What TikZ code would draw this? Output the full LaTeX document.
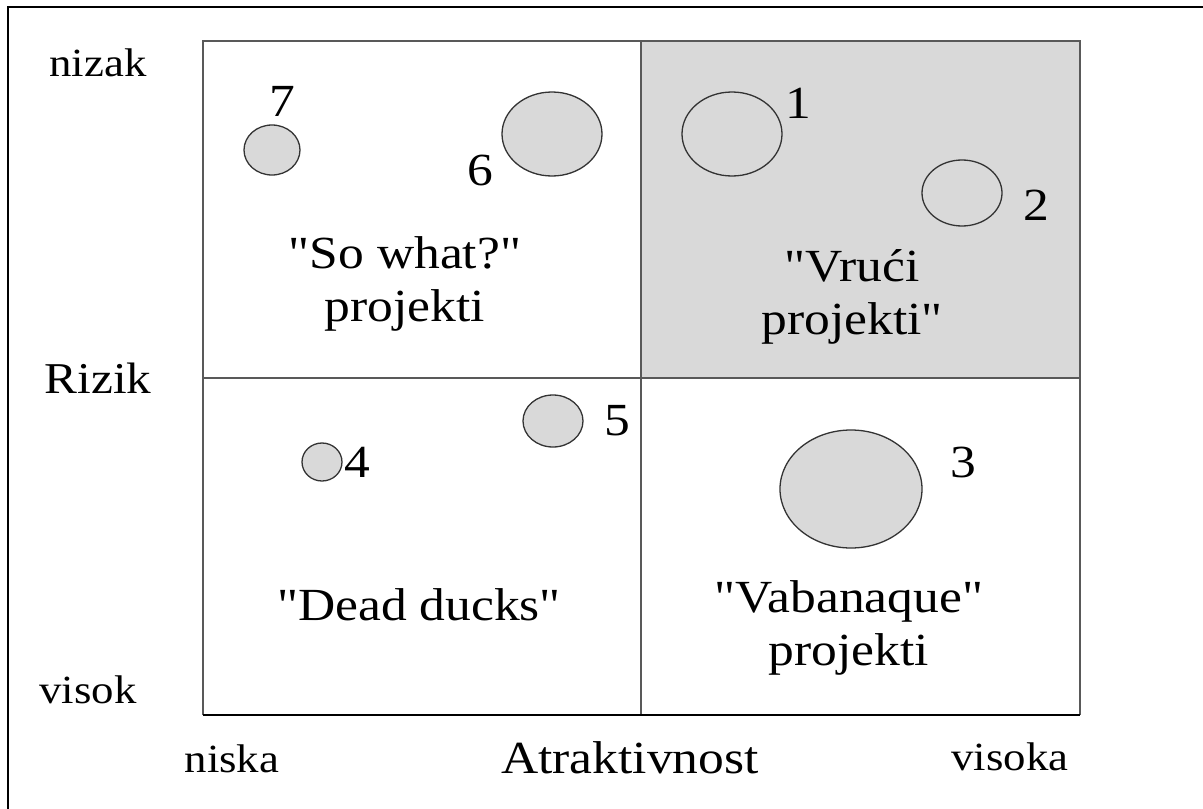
\documentclass[tikz,border=0pt]{standalone}
\usepackage{fontspec}
\setmainfont[FakeStretch=1.12, Ligatures=TeXOff]{Liberation Serif}
\usetikzlibrary{positioning,shapes.geometric}
\tikzset{
grid/.style={
    draw=gray!70!black,
    line width=2pt
},
blob/.style={
    ellipse,
    draw=black!80,
    line width=1.3pt,
    fill=gray!30,
    inner sep=0pt
},
num/.style={
    font=\fontsize{46}{50}\selectfont
},
quad/.style={
    align=center,
    font=\fontsize{46}{53}\selectfont
},
axis/.style={
    anchor=base,
    font=\fontsize{40}{44}\selectfont
}}
\newcommand{\blobat}[4]{\node[blob, minimum width=#3pt, minimum height=#4pt] (#1) at (#2) {};}

\begin{document}
\begin{tikzpicture}[x=1pt, y=-1pt]
\useasboundingbox (0,0) rectangle (1203,809);
% outer frame (runs off the right and bottom edge)
\draw[line width=2pt] (1215,7) -| (8,820);

\coordinate (tl) at (203,41);
\coordinate (tm) at (641,41);
\coordinate (tr) at (1080,41);
\coordinate (ml) at (203,378);
\coordinate (mr) at (1080,378);
\coordinate (bl) at (203,715);
\coordinate (bm) at (641,715);
\coordinate (br) at (1080,715);
\coordinate (mm) at (641,378);

\fill[gray!30] (tm) rectangle (mr);
\draw[grid] (bl) -- (tl) -- (tr) -- (br);
\draw[grid] (tm) -- (bm);
\draw[grid] (ml) -- (mr);
\draw[line width=2.2pt] (bl) -- (br);

% projects
\blobat{p1}{732,134}{100}{84}
\blobat{p2}{962,193}{80}{66}
\blobat{p3}{851,489}{142}{118}
\blobat{p4}{322,462}{40}{38}
\blobat{p5}{553,421}{60}{52}
\blobat{p6}{552,134}{100}{84}
\blobat{p7}{272,150}{56}{50}

\node[num] (n1) at (798,103) {1};
\node[num] (n2) at (1036,205) {2};
\node[num] (n3) at (963,462) {3};
\node[num] (n4) at (357,462) {4};
\node[num] (n5) at (617,421) {5};
\node[num] (n6) at (480,170) {6};
\node[num] (n7) at (282,101) {7};

% quadrant names
\node[quad] (sowhat) at (405,284) {"So what?"\\projekti};
\node[quad] (vruci)  at (852,297) {"Vrući\\projekti"};
\node[quad] (dead)   at (419,605) {"Dead ducks"};
\node[quad] (vaba)   at (849,628) {"Vabanaque"\\projekti};

% axes
\node[axis] (nizak) at (98,76) {nizak};
\node[axis, font=\fontsize{44}{48}\selectfont] (rizik) at (98,393) {Rizik};
\node[axis] (visok) at (88,703) {visok};
\node[axis] (niska) at (232,772) {niska};
\node[axis, font=\fontsize{46}{50}\selectfont] (atr) at (630,773) {Atraktivnost};
\node[axis] (visoka) at (1010,770) {visoka};
\end{tikzpicture}
\end{document}
